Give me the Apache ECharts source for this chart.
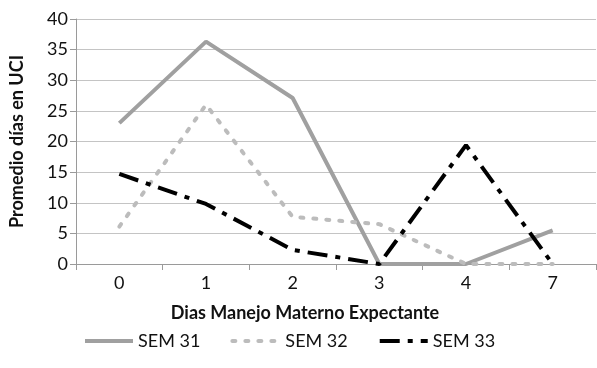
<!DOCTYPE html>
<html>
<head>
<meta charset="utf-8">
<script src="https://cdn.jsdelivr.net/npm/echarts@6/dist/echarts.min.js"></script>
<style>
  html, body { margin: 0; padding: 0; background: #fff; }
  #chart { width: 597px; height: 368px; }
</style>
</head>
<body>
<div id="chart"></div>
<script>
const dias = ["0", "1", "2", "3", "4", "7"]
const sem31 = [23, 36.3, 27.1, 0, 0, 5.5]
const sem32 = [6.1, 26, 7.7, 6.5, 0, 0]
const sem33 = [14.7, 9.8, 2.3, 0, 19.4, 0]

const font = "Lato"

const chart = echarts.init(document.getElementById("chart"))

const option = {
  animation: false,
  grid: {
    left: 72,
    right: 1,
    top: 19,
    bottom: 104
  },
  legend: {
    bottom: 13,
    left: 78,
    itemWidth: 48,
    itemHeight: 10,
    itemGap: 30,
    itemStyle: { opacity: 0 },
    lineStyle: { width: 4 },
    textStyle: { fontFamily: font, fontSize: 18, color: "#111" },
    data: ["SEM 31", "SEM 32", "SEM 33"]
  },
  xAxis: {
    type: "category",
    data: dias,
    boundaryGap: true,
    name: "Dias Manejo Materno Expectante",
    nameLocation: "middle",
    nameGap: 40,
    nameTextStyle: {
      fontFamily: font, fontSize: 18, fontWeight: "bold", color: "#111",
      padding: [0, 62, 0, 0]
    },
    axisLine: { lineStyle: { color: "#9a9a9a", width: 1 } },
    axisTick: { show: true, length: 6, lineStyle: { color: "#9a9a9a" } },
    axisLabel: { fontFamily: font, fontSize: 18, color: "#111", margin: 10 }
  },
  yAxis: {
    type: "value",
    min: 0,
    max: 40,
    interval: 5,
    name: "Promedio días en UCI",
    nameLocation: "middle",
    nameGap: 50,
    nameTextStyle: { fontFamily: font, fontSize: 18, fontWeight: "bold", color: "#111" },
    axisLine: { show: true, lineStyle: { color: "#9a9a9a", width: 1 } },
    axisTick: { show: true, length: 6, lineStyle: { color: "#9a9a9a" } },
    axisLabel: { fontFamily: font, fontSize: 18, color: "#111", margin: 8 },
    splitLine: { lineStyle: { color: "#c4c4c4", width: 1 } }
  },
  series: [
    {
      name: "SEM 31",
      type: "line",
      data: sem31,
      symbol: "none",
      itemStyle: { color: "#a0a0a0" },
      lineStyle: { color: "#a0a0a0", width: 4, type: "solid" }
    },
    {
      name: "SEM 32",
      type: "line",
      data: sem32,
      symbol: "none",
      itemStyle: { color: "#bcbcbc" },
      lineStyle: { color: "#bcbcbc", width: 4, type: [3, 10], cap: "round" }
    },
    {
      name: "SEM 33",
      type: "line",
      data: sem33,
      symbol: "none",
      itemStyle: { color: "#000" },
      lineStyle: { color: "#000", width: 4, type: [20, 8, 5, 8] }
    }
  ]
}

chart.setOption(option)
</script>
</body>
</html>
